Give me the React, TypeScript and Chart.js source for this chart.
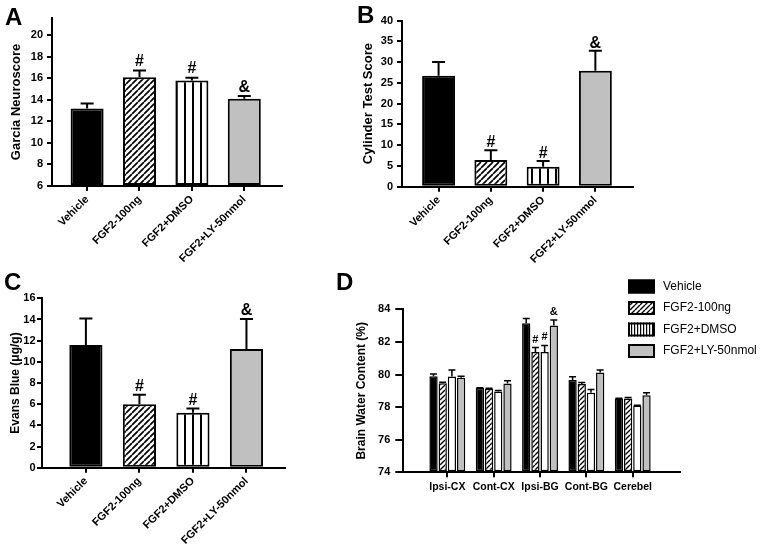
import React, { useEffect, useRef } from 'react';
import { Chart, registerables } from 'chart.js';

Chart.register(...registerables);

const FONT = "'Liberation Sans', Arial, Helvetica, sans-serif";
Chart.defaults.font.family = FONT;
Chart.defaults.color = '#000';

// ---------- data ----------
const groups = ['Vehicle', 'FGF2-100ng', 'FGF2+DMSO', 'FGF2+LY-50nmol'];

const garciaMean = [13.2, 16.1, 15.8, 14.1];
const garciaErr = [0.45, 0.62, 0.25, 0.25];
const garciaMarks = ['', '#', '#', '&'];
const garciaTicks = [6, 8, 10, 12, 14, 16, 18, 20];

const cylinderMean = [26.7, 6.4, 4.8, 27.9];
const cylinderErr = [3.3, 2.4, 1.4, 4.8];
const cylinderMarks = ['', '#', '#', '&'];
const cylinderTicks = [0, 5, 10, 15, 20, 25, 30, 35, 40];

const evansMean = [11.6, 6.0, 5.2, 11.2];
const evansErr = [2.5, 0.9, 0.4, 2.85];
const evansMarks = ['', '#', '#', '&'];
const evansTicks = [0, 2, 4, 6, 8, 10, 12, 14, 16];

const regions = ['Ipsi-CX', 'Cont-CX', 'Ipsi-BG', 'Cont-BG', 'Cerebel'];
const waterVehicle = [79.9, 79.17, 83.14, 79.66, 78.53];
const waterVehicleErr = [0.13, 0.02, 0.3, 0.2, 0.02];
const water100ng = [79.47, 79.12, 81.38, 79.41, 78.53];
const water100ngErr = [0.06, 0.03, 0.27, 0.1, 0.06];
const waterDMSO = [79.87, 78.95, 81.38, 78.88, 78.1];
const waterDMSOErr = [0.4, 0.07, 0.4, 0.2, 0.02];
const waterLY = [79.8, 79.45, 83.0, 80.13, 78.73];
const waterLYErr = [0.1, 0.16, 0.34, 0.14, 0.15];
const waterVehicleMarks = ['', '', '', '', ''];
const water100ngMarks = ['', '', '#', '', ''];
const waterDMSOMarks = ['', '', '#', '', ''];
const waterLYMarks = ['', '', '&', '', ''];
const waterTicks = [74, 76, 78, 80, 82, 84];

const GRAY = '#c0c0c0';

// ---------- fills ----------
function makeHatch(ctx: any, period: number, lw: number) {
  const c = document.createElement('canvas');
  c.width = period;
  c.height = period;
  const g = c.getContext('2d') as CanvasRenderingContext2D;
  g.fillStyle = '#fff';
  g.fillRect(0, 0, period, period);
  g.strokeStyle = '#000';
  g.lineWidth = lw;
  g.beginPath();
  for (const k of [-period, 0, period]) {
    g.moveTo(k, period);
    g.lineTo(k + period, 0);
  }
  g.stroke();
  return ctx.createPattern(c, 'repeat');
}

function makeStripes(ctx: any, period: number, lw: number) {
  const c = document.createElement('canvas');
  c.width = period;
  c.height = 4;
  const g = c.getContext('2d') as CanvasRenderingContext2D;
  g.fillStyle = '#fff';
  g.fillRect(0, 0, period, 4);
  g.fillStyle = '#000';
  g.fillRect(0, 0, lw, 4);
  return ctx.createPattern(c, 'repeat');
}

// ---------- plugins ----------
const errPlugin = {
  id: 'errMarks',
  afterDatasetsDraw(chart: any, _args: any, o: any) {
    if (!o || !o.errs) return;
    const ctx = chart.ctx;
    const ys = chart.scales.y;
    chart.data.datasets.forEach((ds: any, di: number) => {
      const meta = chart.getDatasetMeta(di);
      meta.data.forEach((bar: any, i: number) => {
        const v = ds.data[i].y;
        const e = o.errs[di][i];
        const top = ys.getPixelForValue(v + e);
        ctx.save();
        ctx.strokeStyle = '#000';
        ctx.lineWidth = o.lw;
        ctx.beginPath();
        ctx.moveTo(bar.x, bar.y);
        ctx.lineTo(bar.x, top);
        ctx.moveTo(bar.x - o.cap / 2, top);
        ctx.lineTo(bar.x + o.cap / 2, top);
        ctx.stroke();
        const m = o.marks[di][i];
        if (m) {
          ctx.fillStyle = '#000';
          ctx.font = o.font;
          ctx.textAlign = 'center';
          ctx.textBaseline = 'alphabetic';
          ctx.fillText(m, bar.x, top - o.gap);
        }
        ctx.restore();
      });
    });
  },
};

const boxLegendPlugin = {
  id: 'boxLegend',
  afterDraw(chart: any, _args: any, o: any) {
    if (!o || !o.items) return;
    const ctx = chart.ctx;
    o.items.forEach((label: string, i: number) => {
      const y = o.top + i * o.step;
      ctx.save();
      ctx.fillStyle = o.fills[i];
      ctx.fillRect(o.left, y, o.w, o.h);
      ctx.strokeStyle = '#000';
      ctx.lineWidth = 2;
      ctx.strokeRect(o.left + 1, y + 1, o.w - 2, o.h - 2);
      ctx.fillStyle = '#000';
      ctx.font = o.font;
      ctx.textAlign = 'left';
      ctx.textBaseline = 'middle';
      ctx.fillText(label, o.textX, y + o.h / 2);
      ctx.restore();
    });
  },
};

// ---------- panels ----------
const panels: any[] = [
  {
    box: { x: 0, y: 0, w: 381, h: 275 },
    labels: groups,
    series: [{ values: garciaMean, errs: garciaErr, marks: garciaMarks }],
    fills: (ctx: any) => [['#000', makeHatch(ctx, 6, 1.7), makeStripes(ctx, 8, 2), GRAY]],
    yTicks: garciaTicks, yMin: 6, yMax: 21.6, xMin: -0.67, xMax: 3.72,
    yTitle: 'Garcia Neuroscore', titleSize: 13, titlePad: 9,
    yWidth: 52, xHeight: 89, padding: { left: 0, top: 18, right: 99, bottom: 0 },
    tickSize: 11, xTickSize: 11, rotation: 45, xTickPad: 2, yTickLen: 5, yTickPad: 4,
    barBorder: 2, catPct: 1, barPct: 0.63, errLw: 2, cap: 13, markFont: `bold 16px ${FONT}`, markGap: 4.5,
  },
  {
    box: { x: 355, y: 0, w: 407, h: 275 },
    labels: groups,
    series: [{ values: cylinderMean, errs: cylinderErr, marks: cylinderMarks }],
    fills: (ctx: any) => [['#000', makeHatch(ctx, 6, 1.7), makeStripes(ctx, 8, 2), GRAY]],
    yTicks: cylinderTicks, yMin: 0, yMax: 40, xMin: -0.7, xMax: 3.72,
    yTitle: 'Cylinder Test Score', titleSize: 13, titlePad: 6,
    yWidth: 47, xHeight: 88.3, padding: { left: 0, top: 20.5, right: 129, bottom: 0 },
    tickSize: 11, xTickSize: 11, rotation: 45, xTickPad: 2, yTickLen: 5, yTickPad: 4,
    barBorder: 2, catPct: 1, barPct: 0.63, errLw: 2, cap: 13, markFont: `bold 16px ${FONT}`, markGap: 3,
  },
  {
    box: { x: 0, y: 275, w: 381, h: 281 },
    labels: groups,
    series: [{ values: evansMean, errs: evansErr, marks: evansMarks }],
    fills: (ctx: any) => [['#000', makeHatch(ctx, 6, 1.7), makeStripes(ctx, 8, 2), GRAY]],
    yTicks: evansTicks, yMin: 0, yMax: 16, xMin: -0.82, xMax: 3.72,
    yTitle: 'Evans Blue (\u03bcg/g)', titleSize: 12, titlePad: 8,
    yWidth: 42, xHeight: 88.3, padding: { left: 0, top: 23.3, right: 96, bottom: 0 },
    tickSize: 11, xTickSize: 11, rotation: 45, xTickPad: 2, yTickLen: 5, yTickPad: 1.5,
    barBorder: 2, catPct: 1, barPct: 0.62, errLw: 2, cap: 13, markFont: `bold 16px ${FONT}`, markGap: 3.5,
  },
  {
    box: { x: 340, y: 275, w: 422, h: 281 },
    labels: regions,
    series: [
      { name: 'Vehicle', values: waterVehicle, errs: waterVehicleErr, marks: waterVehicleMarks },
      { name: 'FGF2-100ng', values: water100ng, errs: water100ngErr, marks: water100ngMarks },
      { name: 'FGF2+DMSO', values: waterDMSO, errs: waterDMSOErr, marks: waterDMSOMarks },
      { name: 'FGF2+LY-50nmol', values: waterLY, errs: waterLYErr, marks: waterLYMarks },
    ],
    fills: (ctx: any) => ['#000', makeHatch(ctx, 5, 1.4), '#fff', GRAY],
    legendFills: (ctx: any) => ['#000', makeHatch(ctx, 5, 1.4), makeStripes(ctx, 3, 1.2), GRAY],
    legend: { left: 288, top: 4.5, step: 21.5, w: 27, h: 14, textX: 323, font: `12px ${FONT}` },
    yTicks: waterTicks, yMin: 74, yMax: 84, xMin: -0.95, xMax: 5.02,
    yTitle: 'Brain Water Content (%)', titleSize: 12, titlePad: 14.8,
    yWidth: 63.3, xHeight: 83.7, padding: { left: 0, top: 34.3, right: 82, bottom: 0 },
    tickSize: 11, xTickSize: 10.5, rotation: 0, xTickPad: 4, yTickLen: 8, yTickPad: 5,
    barBorder: 1.5, catPct: 0.794, barPct: 0.9, errLw: 1.5, cap: 7, markFont: `bold 11px ${FONT}`, markGap: 5,
  },
];

function buildChart(canvas: HTMLCanvasElement, p: any) {
  const ctx = canvas.getContext('2d') as any;
  const fills = p.fills(ctx);
  const gridOpts = (len: number) => ({
    display: true,
    drawOnChartArea: false,
    drawTicks: true,
    offset: false,
    tickLength: len,
    tickWidth: 2,
    tickColor: '#000',
    color: '#000',
    lineWidth: 2,
  });
  const plugins: any = {
    legend: { display: false },
    tooltip: { enabled: false },
    errMarks: {
      errs: p.series.map((s: any) => s.errs),
      marks: p.series.map((s: any) => s.marks),
      lw: p.errLw,
      cap: p.cap,
      font: p.markFont,
      gap: p.markGap,
    },
  };
  if (p.legend) {
    plugins.boxLegend = {
      ...p.legend,
      items: p.series.map((s: any) => s.name),
      fills: p.legendFills(ctx),
    };
  }
  return new Chart(ctx, {
    type: 'bar',
    data: {
      datasets: p.series.map((s: any, di: number) => ({
        label: s.name || '',
        data: s.values.map((v: number, i: number) => ({ x: i, y: v })),
        backgroundColor: fills[di],
        borderColor: '#000',
        borderWidth: p.barBorder,
        borderSkipped: false,
        base: p.yMin,
        categoryPercentage: p.catPct,
        barPercentage: p.barPct,
      })),
    },
    options: {
      animation: false,
      responsive: false,
      maintainAspectRatio: false,
      events: [],
      layout: { padding: p.padding },
      plugins,
      scales: {
        x: {
          type: 'linear',
          min: p.xMin,
          max: p.xMax,
          offset: false,
          afterBuildTicks: (s: any) => {
            s.ticks = p.labels.map((_: string, i: number) => ({ value: i }));
          },
          afterFit: (s: any) => {
            s.height = p.xHeight;
          },
          grid: gridOpts(5),
          border: { display: true, color: '#000', width: 2 },
          ticks: {
            autoSkip: false,
            maxRotation: p.rotation,
            minRotation: p.rotation,
            padding: p.xTickPad,
            color: '#000',
            font: { size: p.xTickSize, weight: 'bold', family: FONT },
            callback: (v: any) => p.labels[v] ?? '',
          },
        },
        y: {
          type: 'linear',
          min: p.yMin,
          max: p.yMax,
          afterBuildTicks: (s: any) => {
            s.ticks = p.yTicks.map((v: number) => ({ value: v }));
          },
          afterFit: (s: any) => {
            s.width = p.yWidth;
          },
          grid: gridOpts(p.yTickLen),
          border: { display: true, color: '#000', width: 2 },
          ticks: {
            padding: p.yTickPad,
            color: '#000',
            font: { size: p.tickSize, weight: 'bold', family: FONT },
          },
          title: {
            display: true,
            text: p.yTitle,
            color: '#000',
            font: { size: p.titleSize, weight: 'bold', family: FONT },
            padding: { top: p.titlePad, bottom: 0 },
          },
        },
      },
    } as any,
    plugins: [errPlugin, boxLegendPlugin],
  } as any);
}

const letters = [
  { t: 'A', x: 5, y: 5 },
  { t: 'B', x: 357, y: 3 },
  { t: 'C', x: 4, y: 270 },
  { t: 'D', x: 336, y: 270 },
];

export default function App() {
  const r0 = useRef<HTMLCanvasElement>(null);
  const r1 = useRef<HTMLCanvasElement>(null);
  const r2 = useRef<HTMLCanvasElement>(null);
  const r3 = useRef<HTMLCanvasElement>(null);
  const refs = [r0, r1, r2, r3];

  useEffect(() => {
    const charts = panels.map((p, i) => buildChart(refs[i].current as HTMLCanvasElement, p));
    return () => charts.forEach((c) => c.destroy());
  }, []);

  return (
    <div
      style={{
        position: 'absolute',
        left: 0,
        top: 0,
        width: 762,
        height: 556,
        background: '#fff',
        overflow: 'hidden',
      }}
    >
      {panels.map((p, i) => (
        <canvas
          key={i}
          ref={refs[i]}
          width={p.box.w}
          height={p.box.h}
          style={{ position: 'absolute', left: p.box.x, top: p.box.y, width: p.box.w, height: p.box.h }}
        />
      ))}
      {letters.map((l) => (
        <div
          key={l.t}
          style={{
            position: 'absolute',
            left: l.x,
            top: l.y,
            font: `bold 24px ${FONT}`,
            lineHeight: '24px',
            color: '#000',
          }}
        >
          {l.t}
        </div>
      ))}
    </div>
  );
}
